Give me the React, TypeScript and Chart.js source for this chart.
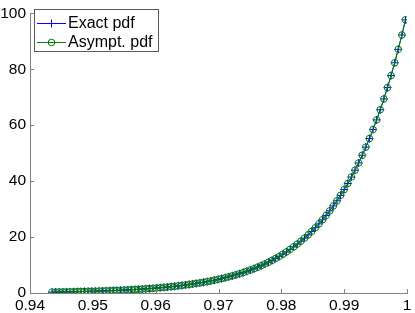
import React, { useEffect, useRef } from "react";
import { Chart, registerables } from "chart.js";

Chart.register(...registerables);

const xValues = [
  0.943508, 0.944082, 0.944656, 0.94523, 0.945804, 0.946378, 0.946952, 0.947526, 0.9481,
  0.948674, 0.949248, 0.949822, 0.950396, 0.95097, 0.951544, 0.952118, 0.952692, 0.953266, 0.95384,
  0.954414, 0.954988, 0.955562, 0.956136, 0.95671, 0.957284, 0.957858, 0.958432, 0.959006, 0.95958,
  0.960154, 0.960728, 0.961302, 0.961876, 0.96245, 0.963024, 0.963598, 0.964172, 0.964746, 0.96532,
  0.965894, 0.966468, 0.967042, 0.967616, 0.96819, 0.968764, 0.969338, 0.969912, 0.970486, 0.97106,
  0.971634, 0.972208, 0.972782, 0.973356, 0.97393, 0.974504, 0.975078, 0.975652, 0.976226, 0.9768,
  0.977374, 0.977948, 0.978522, 0.979096, 0.97967, 0.980244, 0.980818, 0.981392, 0.981966, 0.98254,
  0.983114, 0.983688, 0.984262, 0.984836, 0.98541, 0.985984, 0.986558, 0.987132, 0.987706, 0.98828,
  0.988854, 0.989428, 0.990002, 0.990576, 0.99115, 0.991724, 0.992298, 0.992872, 0.993446, 0.99402,
  0.994594, 0.995168, 0.995742, 0.996316, 0.99689, 0.997464, 0.998038, 0.998612, 0.999186, 0.99976,
];

const exactPdf = [
  0.316, 0.336, 0.357, 0.379, 0.402, 0.427, 0.453, 0.481, 0.511,
  0.543, 0.576, 0.612, 0.649, 0.689, 0.732, 0.777, 0.825, 0.875, 0.929,
  0.986, 1.046, 1.11, 1.178, 1.25, 1.327, 1.408, 1.494, 1.586, 1.683,
  1.785, 1.894, 2.009, 2.131, 2.261, 2.398, 2.544, 2.699, 2.863, 3.037,
  3.221, 3.416, 3.622, 3.841, 4.073, 4.319, 4.58, 4.857, 5.151, 5.462,
  5.791, 6.139, 6.507, 6.898, 7.313, 7.752, 8.218, 8.711, 9.235, 9.79,
  10.374, 10.994, 11.65, 12.346, 13.084, 13.865, 14.693, 15.57, 16.5, 17.485,
  18.523, 19.623, 20.788, 22.022, 23.329, 24.714, 26.181, 27.735, 29.382, 31.13,
  32.967, 34.912, 36.971, 39.152, 41.461, 43.907, 46.497, 49.24, 52.144, 55.22,
  58.46, 61.889, 65.52, 69.364, 73.433, 77.741, 82.302, 87.13, 92.241, 97.652,
];

const asymptPdf = [
  0.316, 0.336, 0.357, 0.379, 0.402, 0.427, 0.453, 0.481, 0.511,
  0.543, 0.576, 0.612, 0.649, 0.689, 0.732, 0.777, 0.825, 0.875, 0.929,
  0.986, 1.046, 1.11, 1.178, 1.25, 1.327, 1.408, 1.494, 1.586, 1.683,
  1.785, 1.894, 2.009, 2.131, 2.261, 2.398, 2.544, 2.699, 2.863, 3.037,
  3.221, 3.416, 3.622, 3.841, 4.073, 4.319, 4.58, 4.857, 5.151, 5.462,
  5.791, 6.139, 6.507, 6.898, 7.313, 7.752, 8.218, 8.711, 9.235, 9.79,
  10.374, 10.994, 11.65, 12.346, 13.084, 13.865, 14.693, 15.57, 16.5, 17.485,
  18.523, 19.623, 20.788, 22.022, 23.329, 24.714, 26.181, 27.735, 29.382, 31.13,
  32.967, 34.912, 36.971, 39.152, 41.461, 43.907, 46.497, 49.24, 52.144, 55.22,
  58.46, 61.889, 65.52, 69.364, 73.433, 77.741, 82.302, 87.13, 92.241, 97.652,
];

const seriesNames = ["Exact pdf", "Asympt. pdf"];
const xTickValues = [0.94, 0.95, 0.96, 0.97, 0.98, 0.99, 1];
const xTickLabels = ["0.94", "0.95", "0.96", "0.97", "0.98", "0.99", "1"];
const yTickValues = [0, 20, 40, 60, 80, 100];
const yTickLabels = ["0", "20", "40", "60", "80", "100"];

const FONT = "'Liberation Sans', Arial, Helvetica, sans-serif";
const AXIS_COLOR = "#808080";
const BLUE = "#0000ff";
const GREEN = "#008000";

const inwardTicks = {
  id: "inwardTicks",
  afterDatasetsDraw(chart: any) {
    const { ctx, chartArea, scales } = chart;
    ctx.save();
    ctx.strokeStyle = AXIS_COLOR;
    ctx.lineWidth = 1;
    const len = 4;
    xTickValues.forEach((v) => {
      const px = Math.round(scales.x.getPixelForValue(v)) + 0.5;
      ctx.beginPath();
      ctx.moveTo(px, chartArea.bottom);
      ctx.lineTo(px, chartArea.bottom - len);
      ctx.stroke();
    });
    yTickValues.forEach((v) => {
      const py = Math.round(scales.y.getPixelForValue(v)) + 0.5;
      ctx.beginPath();
      ctx.moveTo(chartArea.left, py);
      ctx.lineTo(chartArea.left + len, py);
      ctx.stroke();
    });
    ctx.restore();
  },
};

const matlabLegend = {
  id: "matlabLegend",
  afterDraw(chart: any) {
    const { ctx } = chart;
    const left = 34.5, top = 9.5, w = 124, h = 42;
    ctx.save();
    ctx.fillStyle = "#ffffff";
    ctx.fillRect(left, top, w, h);
    ctx.strokeStyle = "#5a5a5a";
    ctx.lineWidth = 1;
    ctx.strokeRect(left, top, w, h);
    const rows = [
      { y: 23, color: BLUE, marker: "cross" },
      { y: 42, color: GREEN, marker: "circle" },
    ];
    rows.forEach((r, i) => {
      ctx.strokeStyle = r.color;
      ctx.lineWidth = 1;
      ctx.beginPath();
      ctx.moveTo(37, r.y + 0.5);
      ctx.lineTo(66, r.y + 0.5);
      ctx.stroke();
      const cx = 51.5, cy = r.y + 0.5;
      ctx.beginPath();
      if (r.marker === "cross") {
        ctx.moveTo(cx, cy - 4);
        ctx.lineTo(cx, cy + 4);
        ctx.moveTo(cx - 4, cy);
        ctx.lineTo(cx + 4, cy);
        ctx.stroke();
      } else {
        ctx.arc(cx, cy, 3.3, 0, Math.PI * 2);
        ctx.stroke();
      }
      ctx.fillStyle = "#000000";
      ctx.font = `16px ${FONT}`;
      ctx.textBaseline = "middle";
      ctx.textAlign = "left";
      ctx.fillText(seriesNames[i], 68, r.y + 1);
    });
    ctx.restore();
  },
};

export default function App() {
  const ref = useRef<HTMLCanvasElement | null>(null);
  useEffect(() => {
    document.body.style.margin = "0";
    const canvas = ref.current;
    if (!canvas) return;
    const chart = new Chart(canvas, {
      type: "line",
      data: {
        datasets: [
          {
            label: seriesNames[0],
            data: xValues.map((x, i) => ({ x, y: exactPdf[i] })),
            borderColor: BLUE,
            backgroundColor: "transparent",
            borderWidth: 1,
            pointStyle: "cross",
            pointRadius: 4,
            pointBorderColor: BLUE,
            pointBorderWidth: 1,
            order: 1,
          },
          {
            label: seriesNames[1],
            data: xValues.map((x, i) => ({ x, y: asymptPdf[i] })),
            borderColor: GREEN,
            backgroundColor: "transparent",
            borderWidth: 1,
            pointStyle: "circle",
            pointRadius: 3.3,
            pointBorderColor: GREEN,
            pointBackgroundColor: "transparent",
            pointBorderWidth: 1,
            order: 0,
          },
        ],
      },
      options: {
        responsive: false,
        animation: false,
        layout: { padding: { top: 13, right: 8, left: 0, bottom: 0 } },
        plugins: {
          legend: { display: false },
          tooltip: { enabled: false },
        },
        scales: {
          x: {
            type: "linear",
            min: 0.94,
            max: 1,
            afterBuildTicks: (scale: any) => {
              scale.ticks = xTickValues.map((v) => ({ value: v }));
            },
            afterFit: (scale: any) => {
              scale.height = 20;
            },
            ticks: {
              autoSkip: false,
              maxRotation: 0,
              padding: 3,
              color: "#000000",
              font: { family: FONT, size: 15.5 },
              callback: (_v: any, i: number) => xTickLabels[i],
            },
            grid: { display: false, drawTicks: false },
            border: { display: true, color: AXIS_COLOR, width: 1 },
          },
          y: {
            type: "linear",
            min: 0,
            max: 100,
            afterBuildTicks: (scale: any) => {
              scale.ticks = yTickValues.map((v) => ({ value: v }));
            },
            afterFit: (scale: any) => {
              scale.width = 30;
            },
            ticks: {
              autoSkip: false,
              padding: 4,
              color: "#000000",
              font: { family: FONT, size: 15.5 },
              callback: (_v: any, i: number) => yTickLabels[i],
            },
            grid: { display: false, drawTicks: false },
            border: { display: true, color: AXIS_COLOR, width: 1 },
          },
        },
      },
      plugins: [inwardTicks, matlabLegend],
    });
    return () => chart.destroy();
  }, []);
  return <canvas ref={ref} width={415} height={313} style={{ display: "block" }} />;
}
